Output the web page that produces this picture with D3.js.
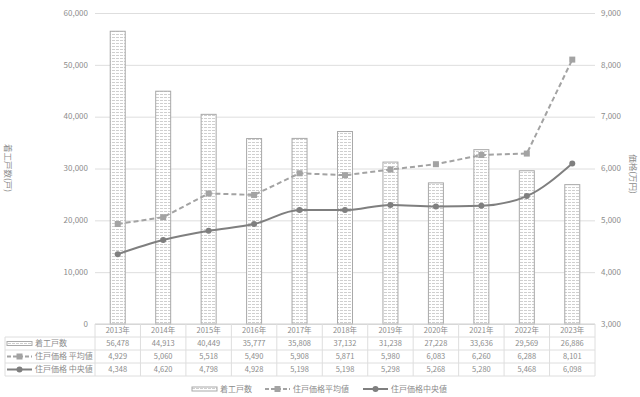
<!DOCTYPE html>
<html>
<head>
<meta charset="utf-8">
<script src="https://cdn.jsdelivr.net/npm/d3@7"></script>
<style>
  body { margin: 0; background: #fff; }
  svg { display: block; font-family: "Noto Sans CJK JP", "Noto Sans", sans-serif; }
</style>
</head>
<body>
<svg id="chart" width="640" height="397"></svg>
<script>
// data
var years = ['2013年','2014年','2015年','2016年','2017年','2018年','2019年','2020年','2021年','2022年','2023年'];
var starts = [56478, 44913, 40449, 35777, 35808, 37132, 31238, 27228, 33636, 29569, 26886];
var avgPrice = [4929, 5060, 5518, 5490, 5908, 5871, 5980, 6083, 6260, 6288, 8101];
var medPrice = [4348, 4620, 4798, 4928, 5198, 5198, 5298, 5268, 5280, 5468, 6098];
var leftTicks = [0, 10000, 20000, 30000, 40000, 50000, 60000];
var rightTicks = [3000, 4000, 5000, 6000, 7000, 8000, 9000];
var seriesNames = ['着工戸数', '住戸価格 平均値', '住戸価格 中央値'];
var legendNames = ['着工戸数', '住戸価格平均値', '住戸価格中央値'];

var svg = d3.select('#chart');
var plotLeft = 95, plotRight = 595, plotTop = 13, plotBottom = 324;
var textColor = '#8c8c8c';
var gridColor = '#dedede';
var fmt = d3.format(',');

var x = d3.scaleBand().domain(years).range([plotLeft, plotRight]).padding(0);
var yL = d3.scaleLinear().domain([0, 60000]).range([plotBottom, plotTop]);
var yR = d3.scaleLinear().domain([3000, 9000]).range([plotBottom, plotTop]);

// bar fill pattern
var defs = svg.append('defs');
var pat = defs.append('pattern')
  .attr('id', 'barpat')
  .attr('patternUnits', 'userSpaceOnUse')
  .attr('width', 4).attr('height', 3);
pat.append('rect').attr('width', 4).attr('height', 3).attr('fill', '#fff');
pat.append('rect').attr('x', 0).attr('y', 1).attr('width', 3).attr('height', 1).attr('fill', '#cfcfcf');

// gridlines
svg.append('g')
  .attr('transform', 'translate(' + plotLeft + ',0)')
  .call(d3.axisLeft(yL).tickValues(leftTicks).tickSize(-(plotRight - plotLeft)).tickFormat(''))
  .call(g => g.select('.domain').remove())
  .call(g => g.selectAll('.tick line').attr('stroke', gridColor));

// left tick labels
svg.append('g').selectAll('text')
  .data(leftTicks).enter().append('text')
  .attr('x', 88).attr('y', d => yL(d))
  .attr('dy', '0.35em')
  .attr('text-anchor', 'end')
  .attr('font-size', 8)
  .attr('fill', textColor)
  .text(d => fmt(d));

// right tick labels
svg.append('g').selectAll('text')
  .data(rightTicks).enter().append('text')
  .attr('x', 601).attr('y', d => yR(d))
  .attr('dy', '0.35em')
  .attr('text-anchor', 'start')
  .attr('font-size', 8)
  .attr('fill', textColor)
  .text(d => fmt(d));

// axis titles
svg.append('text')
  .attr('transform', 'translate(5,168) rotate(90)')
  .attr('text-anchor', 'middle')
  .attr('font-size', 8.5)
  .attr('fill', textColor)
  .text('着工戸数(戸)');
svg.append('text')
  .attr('transform', 'translate(630,174) rotate(90)')
  .attr('text-anchor', 'middle')
  .attr('font-size', 8.5)
  .attr('fill', textColor)
  .text('価格(万円)');

// bars
var bw = x.bandwidth() * 0.33;
svg.append('g').selectAll('rect')
  .data(starts).enter().append('rect')
  .attr('x', (d, i) => x(years[i]) + (x.bandwidth() - bw) / 2)
  .attr('y', d => yL(d))
  .attr('width', bw)
  .attr('height', d => plotBottom - yL(d))
  .attr('fill', 'url(#barpat)')
  .attr('stroke', '#a9a9a9')
  .attr('stroke-width', 1);

var cx = i => x(years[i]) + x.bandwidth() / 2;

// average line (dashed, squares)
svg.append('path')
  .datum(avgPrice)
  .attr('fill', 'none')
  .attr('stroke', '#a3a3a3')
  .attr('stroke-width', 2)
  .attr('stroke-dasharray', '5,3')
  .attr('d', d3.line().x((d, i) => cx(i)).y(d => yR(d)));
svg.append('g').selectAll('rect')
  .data(avgPrice).enter().append('rect')
  .attr('x', (d, i) => cx(i) - 3)
  .attr('y', d => yR(d) - 3)
  .attr('width', 6).attr('height', 6)
  .attr('fill', '#a3a3a3');

// median line (solid, circles)
svg.append('path')
  .datum(medPrice)
  .attr('fill', 'none')
  .attr('stroke', '#7f7f7f')
  .attr('stroke-width', 2)
  .attr('d', d3.line().x((d, i) => cx(i)).y(d => yR(d)).curve(d3.curveMonotoneX));
svg.append('g').selectAll('circle')
  .data(medPrice).enter().append('circle')
  .attr('cx', (d, i) => cx(i))
  .attr('cy', d => yR(d))
  .attr('r', 3)
  .attr('fill', '#7f7f7f');

// axis line
svg.append('line')
  .attr('x1', plotLeft).attr('x2', plotRight)
  .attr('y1', plotBottom).attr('y2', plotBottom)
  .attr('stroke', '#d0d0d0');

// data table
var rowTop = [324, 337, 350, 363];
var rowH = 13;
var tableLeft = 5;
var tbl = svg.append('g');

// horizontal lines
[337, 350, 363, 376].forEach(function(yy) {
  tbl.append('line')
    .attr('x1', tableLeft).attr('x2', plotRight)
    .attr('y1', yy).attr('y2', yy)
    .attr('stroke', gridColor);
});
// vertical lines
tbl.selectAll('line.v')
  .data(years.concat(['end'])).enter().append('line')
  .attr('class', 'v')
  .attr('x1', (d, i) => plotLeft + i * x.bandwidth())
  .attr('x2', (d, i) => plotLeft + i * x.bandwidth())
  .attr('y1', 324).attr('y2', 376)
  .attr('stroke', gridColor);
tbl.append('line')
  .attr('x1', tableLeft).attr('x2', tableLeft)
  .attr('y1', 337).attr('y2', 376)
  .attr('stroke', gridColor);

// year row
tbl.selectAll('text.yr')
  .data(years).enter().append('text')
  .attr('x', (d, i) => cx(i))
  .attr('y', rowTop[0] + rowH / 2)
  .attr('dy', '0.35em')
  .attr('text-anchor', 'middle')
  .attr('font-size', 7.5)
  .attr('fill', textColor)
  .text(d => d);

var rows = [starts, avgPrice, medPrice];
rows.forEach(function(vals, r) {
  var yy = rowTop[r + 1] + rowH / 2;
  tbl.selectAll('text.r' + r)
    .data(vals).enter().append('text')
    .attr('x', (d, i) => cx(i))
    .attr('y', yy)
    .attr('dy', '0.35em')
    .attr('text-anchor', 'middle')
    .attr('font-size', 7.5)
    .attr('fill', textColor)
    .text(d => fmt(d));
  tbl.append('text')
    .attr('x', 35).attr('y', yy)
    .attr('dy', '0.35em')
    .attr('font-size', 8)
    .attr('fill', textColor)
    .text(seriesNames[r]);
});

// legend keys helper
function barKey(g, x0, yy) {
  g.append('rect')
    .attr('x', x0).attr('y', yy - 2)
    .attr('width', 25).attr('height', 4)
    .attr('fill', 'url(#barpat)')
    .attr('stroke', '#a9a9a9');
}
function avgKey(g, x0, yy) {
  g.append('line')
    .attr('x1', x0).attr('x2', x0 + 25)
    .attr('y1', yy).attr('y2', yy)
    .attr('stroke', '#a3a3a3').attr('stroke-width', 2)
    .attr('stroke-dasharray', '4,2');
  g.append('rect')
    .attr('x', x0 + 9.5).attr('y', yy - 3)
    .attr('width', 6).attr('height', 6)
    .attr('fill', '#a3a3a3');
}
function medKey(g, x0, yy) {
  g.append('line')
    .attr('x1', x0).attr('x2', x0 + 25)
    .attr('y1', yy).attr('y2', yy)
    .attr('stroke', '#7f7f7f').attr('stroke-width', 2);
  g.append('circle')
    .attr('cx', x0 + 12.5).attr('cy', yy)
    .attr('r', 3)
    .attr('fill', '#7f7f7f');
}
var keys = [barKey, avgKey, medKey];

// keys in the table
keys.forEach(function(k, r) {
  k(tbl, 7, rowTop[r + 1] + rowH / 2);
});

// bottom legend
var legX = [192, 265, 363];
var leg = svg.append('g');
keys.forEach(function(k, i) {
  k(leg, legX[i], 389);
  leg.append('text')
    .attr('x', legX[i] + 28).attr('y', 389)
    .attr('dy', '0.35em')
    .attr('font-size', 8)
    .attr('fill', textColor)
    .text(legendNames[i]);
});
</script>
</body>
</html>
